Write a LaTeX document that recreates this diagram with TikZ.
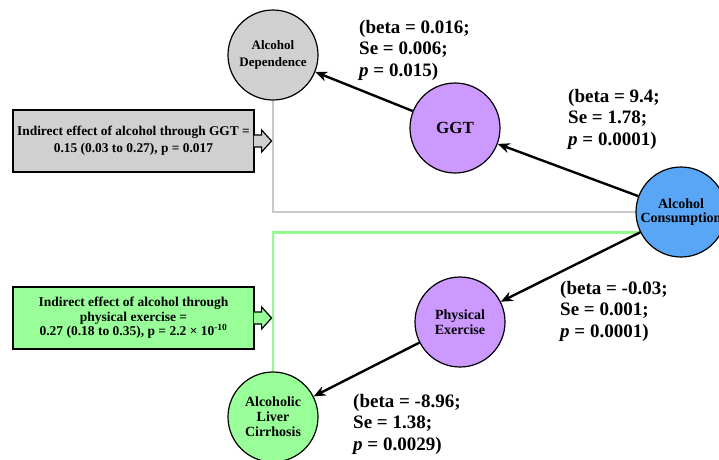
\documentclass[tikz,border=0pt]{standalone}
\usepackage{fontspec}
\setmainfont{Liberation Serif}
\usetikzlibrary{calc,arrows.meta}

\definecolor{depgray}{RGB}{208,208,208}
\definecolor{ggtpurple}{RGB}{204,153,255}
\definecolor{alcblue}{RGB}{88,166,245}
\definecolor{cirgreen}{RGB}{153,255,153}
\definecolor{linegray}{RGB}{200,200,200}
\definecolor{linegreen}{RGB}{150,250,140}

\begin{document}
\begin{tikzpicture}[x=1pt,y=-1pt,
  factor/.style={circle,draw,line width=1.2pt,minimum size=90pt,inner sep=0pt,
    align=center,font=\bfseries\fontsize{14}{14.5}\selectfont},
  path arrow/.style={-{Stealth[length=12pt,width=10pt]},line width=2.4pt},
  estimate/.style={anchor=north west,align=left,inner sep=0pt,
    font=\bfseries\fontsize{19}{21.5}\selectfont},
  note/.style={rectangle,draw,line width=1.2pt,minimum width=241pt,minimum height=62pt,
    inner sep=0pt,align=center},
  tip/.style={line width=1.2pt}]
\useasboundingbox (0,0) rectangle (719,459);

% factors
\node[factor,fill=depgray,font=\bfseries\fontsize{13}{16.7}\selectfont] (dep) at (273,55) {Alcohol\\Dependence};
\node[factor,fill=ggtpurple,font=\bfseries\fontsize{17}{18}\selectfont] (ggt) at (455,128) {GGT};
\node[factor,fill=alcblue] (alc) at (681,212) {Alcohol\\Consumption};
\node[factor,fill=ggtpurple] (pe) at (460,322) {Physical\\Exercise};
\node[factor,fill=cirgreen,font=\bfseries\fontsize{14}{15}\selectfont] (cir) at (273,417) {Alcoholic\\Liver\\Cirrhosis};

% indirect paths
\draw[linegray,line width=2.6pt] (dep.south) |- (alc.west);
\draw[linegreen,line width=2.6pt] (cir.north) |- (alc.207.8);

% direct effects
\draw[path arrow] (ggt) -- (dep);
\draw[path arrow] (alc) -- (ggt);
\draw[path arrow] (alc) -- (pe);
\draw[path arrow] (pe) -- (cir);

\node[estimate] (b1) at (359,20) {(beta = 0.016;\\Se = 0.006;\\\textit{p} = 0.015)};
\node[estimate] (b2) at (568,89) {(beta = 9.4;\\Se = 1.78;\\\textit{p} = 0.0001)};
\node[estimate] (b3) at (560,281) {(beta = -0.03;\\Se = 0.001;\\\textit{p} = 0.0001)};
\node[estimate] (b4) at (353,394) {(beta = -8.96;\\Se = 1.38;\\\textit{p} = 0.0029)};

% indirect effect notes
\node[note,fill=depgray,font=\bfseries\fontsize{13.4}{16.7}\selectfont] (ggtnote) at (133.5,141)
  {Indirect effect of alcohol through GGT =\\0.15 (0.03 to 0.27), p = 0.017};
\filldraw[tip,fill=depgray] ($(ggtnote.east)+(-0.8,-6)$) -- ++(7.8,0) -- ++(0,-5) -- ++(10,11)
  -- ++(-10,11) -- ++(0,-5) -- ++(-7.8,0);
\node[note,fill=cirgreen,font=\bfseries\fontsize{13.5}{14.5}\selectfont] (penote) at (133.5,318)
  {Indirect effect of alcohol through\\physical exercise =\\0.27 (0.18 to 0.35), p = 2.2 × 10\textsuperscript{-10}};
\filldraw[tip,fill=cirgreen] ($(penote.east)+(-0.8,-6)$) -- ++(7.8,0) -- ++(0,-5) -- ++(10,11)
  -- ++(-10,11) -- ++(0,-5) -- ++(-7.8,0);
\end{tikzpicture}
\end{document}
